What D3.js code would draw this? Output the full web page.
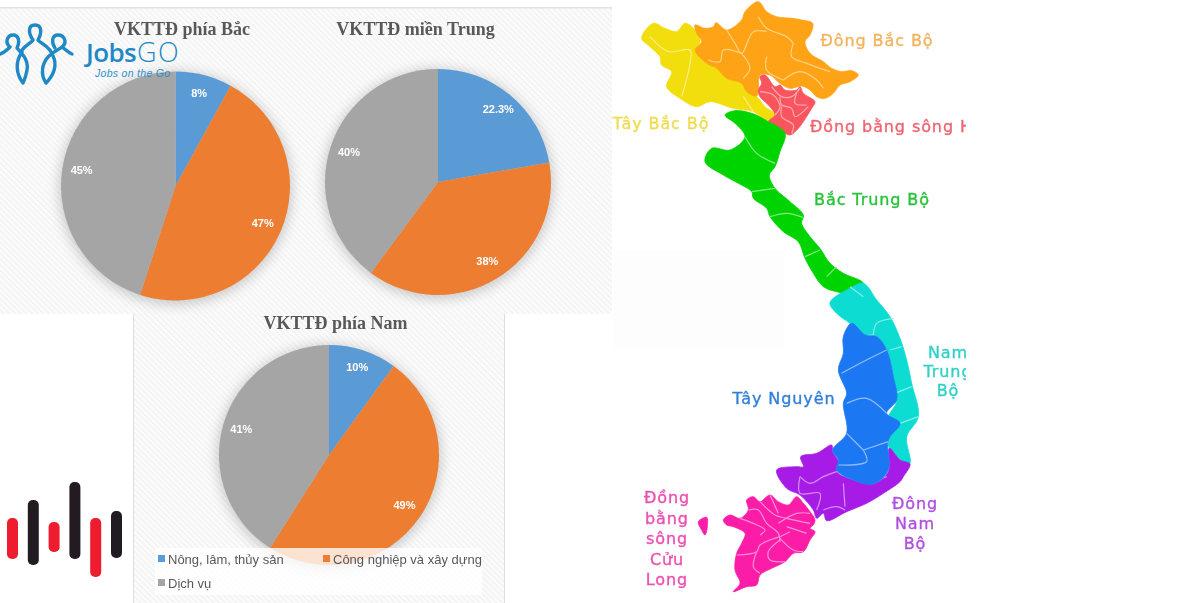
<!DOCTYPE html>
<html><head><meta charset="utf-8">
<script src="https://cdn.jsdelivr.net/npm/d3@7"></script>
<style>html,body{margin:0;padding:0;background:#fff;overflow:hidden}svg{display:block}</style>
</head><body><svg id="c" width="1200" height="603"></svg>
<script>
// ---------- data ----------
const categories = ["Nông, lâm, thủy sản", "Công nghiệp và xây dựng", "Dịch vụ"];
const pieTitles = ["VKTTĐ phía Bắc", "VKTTĐ miền Trung", "VKTTĐ phía Nam"];
const valuesBac = [8, 47, 45];
const valuesTrung = [22.3, 38, 40];
const valuesNam = [10, 49, 41];
const pieColors = ["#5b9bd5", "#ed7d31", "#a5a5a5"];
const logoBarTops = [518, 500, 522, 482, 518, 511];
const logoBarBottoms = [559, 565, 552, 559, 577, 558];
const logoBarColors = ["#ed1c2e", "#231f20", "#ed1c2e", "#231f20", "#ed1c2e", "#231f20"];
// Region outlines, in map units (two map sheets: 0 north, 1 south)
const dongBac = [[255,75],[285,85],[310,80],[318,68],[350,90],[395,60],[405,35],[445,5],[470,35],[500,50],[545,55],[575,60],[608,70],[600,105],[585,125],[600,160],[640,185],[665,205],[695,215],[725,212],[745,225],[720,245],[690,255],[670,280],[645,295],[620,290],[600,270],[575,258],[540,265],[510,250],[480,225],[450,225],[445,265],[440,288],[410,275],[395,250],[350,235],[320,205],[290,190],[255,150],[275,125],[260,100]];
const tayBac = [[95,115],[130,70],[165,85],[200,95],[225,70],[255,90],[270,125],[255,150],[290,190],[320,205],[350,235],[395,250],[410,275],[440,290],[465,320],[498,345],[470,360],[430,335],[370,325],[300,305],[260,320],[210,295],[170,260],[185,215],[155,195],[150,170],[120,140]];
const dbsh = [[450,230],[465,225],[495,260],[510,255],[525,270],[560,270],[570,260],[580,280],[615,305],[605,325],[580,365],[565,385],[540,405],[510,390],[475,365],[495,345],[475,315],[450,290],[445,270],[455,250]];
const bacTrung = [[345,345],[375,332],[425,340],[470,362],[525,400],[510,455],[495,500],[478,525],[495,565],[540,605],[580,645],[575,670],[600,710],[630,745],[660,790],[700,820],[760,850],[720,880],[680,875],[640,860],[610,820],[585,775],[565,725],[520,695],[480,650],[470,625],[430,595],[425,575],[385,550],[340,525],[285,485],[305,445],[360,450],[405,410],[375,370]];
const namTrung = [[660,68],[720,25],[760,10],[800,60],[840,110],[870,175],[890,240],[905,310],[925,410],[890,470],[900,550],[870,540],[838,505],[835,470],[835,410],[860,365],[850,290],[830,210],[790,165],[765,165],[720,130],[680,100]];
const tayNguyen = [[725,130],[765,165],[800,170],[830,210],[850,290],[860,360],[830,400],[870,430],[835,480],[835,570],[790,612],[730,600],[680,570],[685,540],[668,510],[710,460],[700,370],[710,340],[685,270],[700,220],[700,170]];
const dongNam = [[572,530],[620,520],[665,495],[668,515],[685,545],[680,575],[730,600],[790,612],[835,575],[838,505],[870,540],[900,552],[880,590],[870,605],[820,640],[770,670],[710,695],[650,722],[640,700],[620,715],[610,690],[570,645],[530,625],[500,570],[560,560],[580,560]];
const cuuLong = [[340,720],[360,705],[390,715],[415,690],[410,660],[430,650],[450,665],[480,645],[505,665],[535,675],[560,650],[580,670],[600,695],[615,720],[610,735],[600,745],[615,755],[600,780],[580,815],[550,820],[525,845],[485,865],[450,885],[440,915],[410,920],[370,935],[390,910],[375,870],[380,820],[395,790],[405,760],[370,740],[350,735]];
const phuQuoc = [[265,725],[290,712],[292,740],[285,765],[275,750]];
// Province boundaries, in map units
const linesDongBac = [[[350,90],[375,130],[395,160],[430,95],[470,95]],[[395,160],[340,150],[330,185],[295,180]],[[445,50],[470,85],[530,110],[550,130]],[[470,170],[470,210],[520,240]],[[395,160],[420,205],[400,235]],[[550,130],[545,170],[590,190],[660,215]],[[520,240],[570,215],[620,240],[640,265]]];
const linesTayBac = [[[120,110],[175,155],[240,150],[240,190],[215,290]],[[400,290],[430,335]]];
const linesDbsh = [[[485,260],[515,290],[545,290],[570,265]],[[450,275],[490,285],[510,320],[495,345]],[[510,290],[515,315],[545,325],[555,350],[595,320]],[[515,320],[515,350],[550,375],[545,400]],[[560,280],[555,310],[590,315]]];
const linesBacTrung = [[[405,410],[440,460],[495,490]],[[425,575],[495,565]],[[480,650],[530,640],[578,652]],[[585,770],[630,750]],[[650,830],[680,800]]];
const linesNamTrung = [[[720,20],[760,50]],[[790,165],[800,130],[850,115]],[[840,210],[875,200]],[[855,340],[905,320]],[[870,430],[925,410]]];
const linesTayNguyen = [[[695,280],[750,250],[830,210]],[[710,370],[770,355],[830,400]],[[710,460],[760,510]],[[760,510],[835,485]],[[685,555],[770,545],[760,510]]];
const linesDongNam = [[[570,590],[600,610],[640,590],[680,575]],[[570,590],[570,640],[630,640],[620,690]],[[700,610],[705,680]],[[640,690],[680,680],[705,690]],[[800,600],[830,590]]];
const linesCuuLong = [[[415,690],[445,690],[470,730],[505,760],[510,785]],[[450,665],[495,705],[530,715],[600,730]],[[480,645],[505,700]],[[390,715],[430,730],[465,750],[450,765]],[[505,730],[560,700],[600,700]],[[530,740],[590,760]],[[510,770],[450,795],[440,815],[380,825]],[[440,815],[430,860],[450,880]],[[510,780],[475,815],[480,840],[525,845]],[[510,775],[550,810],[580,815]],[[540,755],[510,770]]];
const regionNames = ["Đông Bắc Bộ","Tây Bắc Bộ","Đồng bằng sông Hồng","Bắc Trung Bộ","Nam Trung Bộ","Tây Nguyên","Đông Nam Bộ","Đồng bằng sông Cửu Long"];
const regionColors = ["#ffa313","#f2dd0c","#f9555f","#04d404","#0cdcd2","#1f78f2","#a61fe6","#fb1ea8"];
const labelColors = ["#f2b45e","#efdc4f","#ef6470","#27c23a","#2fd0c8","#2f7fd8","#b04fdc","#ec4fb0"];

// ---------- layout ----------
const svg = d3.select("#c");
const defs = svg.append("defs");
const pat = defs.append("pattern").attr("id","hatch").attr("width",4).attr("height",4)
  .attr("patternUnits","userSpaceOnUse").attr("patternTransform","rotate(-45)");
pat.append("rect").attr("width",4).attr("height",4).attr("fill","#fcfcfc");
pat.append("rect").attr("width",2).attr("height",4).attr("fill","#f4f4f4");
const soft = defs.append("filter").attr("id","soft"); soft.append("feGaussianBlur").attr("stdDeviation",0.55);
const softer = defs.append("filter").attr("id","softer"); softer.append("feGaussianBlur").attr("stdDeviation",0.4);
const shadow = defs.append("filter").attr("id","shadow").attr("x","-20%").attr("y","-20%").attr("width","140%").attr("height","140%");
shadow.append("feGaussianBlur").attr("stdDeviation",7);
defs.append("clipPath").attr("id","mapClip").append("rect").attr("x",600).attr("y",0).attr("width",366).attr("height",603);

// panels
svg.append("rect").attr("x",0).attr("y",8).attr("width",612).attr("height",306).attr("fill","url(#hatch)");
svg.append("rect").attr("x",0).attr("y",7).attr("width",612).attr("height",1.5).attr("fill","#e2e2e2");
svg.append("rect").attr("x",133).attr("y",314).attr("width",371).attr("height",289).attr("fill","url(#hatch)");
svg.append("rect").attr("x",133).attr("y",314).attr("width",1).attr("height",289).attr("fill","#dedede");
svg.append("rect").attr("x",504).attr("y",314).attr("width",1).attr("height",289).attr("fill","#dedede");
svg.append("rect").attr("x",613).attr("y",250).attr("width",172).attr("height",98).attr("fill","#fdfdfd");

const pies = [
 {values:valuesBac,title:pieTitles[0],cx:175.5,cy:186,r:114.5,tx:182,ty:35},
 {values:valuesTrung,title:pieTitles[1],cx:438,cy:182,r:113,tx:415.5,ty:35},
 {values:valuesNam,title:pieTitles[2],cx:329,cy:455,r:110,tx:335.5,ty:329}
];
const pieGen = d3.pie().sort(null).value(d=>d);
pies.forEach(p=>{
  const g = svg.append("g").attr("transform",`translate(${p.cx},${p.cy})`);
  g.append("circle").attr("r",p.r+1).attr("cy",2).attr("fill","#000").attr("opacity",0.22).attr("filter","url(#shadow)");
  const arc = d3.arc().innerRadius(0).outerRadius(p.r);
  const labelArc = d3.arc().innerRadius(p.r*0.83).outerRadius(p.r*0.83);
  const slices = pieGen(p.values);
  g.selectAll("path").data(slices).join("path").attr("d",arc).attr("fill",(d,i)=>pieColors[i]);
  g.selectAll("text").data(slices).join("text")
    .attr("x",d=>labelArc.centroid(d)[0]).attr("y",d=>labelArc.centroid(d)[1]+3)
    .attr("text-anchor","middle").attr("fill","#fff").attr("filter","url(#softer)")
    .style("font","bold 11px 'Liberation Sans',sans-serif")
    .text(d=>d.value+"%");
  svg.append("text").attr("x",p.tx).attr("y",p.ty).attr("text-anchor","middle").attr("fill","#595959")
    .attr("filter","url(#softer)")
    .style("font","bold 18px 'Liberation Serif',serif").text(p.title);
});

// legend
svg.append("rect").attr("x",155).attr("y",548).attr("width",327).attr("height",47).attr("fill","#fff").attr("opacity",0.78);
const legendPos = [[158,559],[323,559],[158,583]];
const lg = svg.append("g").attr("filter","url(#softer)");
categories.forEach((c,i)=>{
  lg.append("rect").attr("x",legendPos[i][0]).attr("y",legendPos[i][1]-4).attr("width",7).attr("height",7).attr("fill",pieColors[i]);
  lg.append("text").attr("x",legendPos[i][0]+10).attr("y",legendPos[i][1]+5).attr("fill","#595959")
    .style("font","13px 'Liberation Sans',sans-serif").text(c);
});

// map
const mapX = d3.scaleLinear().domain([0,1080]).range([610,970]);
const yNorth = d3.scaleLinear().domain([0,900]).range([0,300]);
const ySouth = d3.scaleLinear().domain([0,969]).range([280,603]);
const regions = [
 {pts:[tayBac],lines:linesTayBac,c:1,sheet:0},{pts:[dongBac],lines:linesDongBac,c:0,sheet:0},
 {pts:[dbsh],lines:linesDbsh,c:2,sheet:0},{pts:[bacTrung],lines:linesBacTrung,c:3,sheet:0},
 {pts:[namTrung],lines:linesNamTrung,c:4,sheet:1},{pts:[dongNam],lines:linesDongNam,c:6,sheet:1},
 {pts:[tayNguyen],lines:linesTayNguyen,c:5,sheet:1},{pts:[cuuLong,phuQuoc],lines:linesCuuLong,c:7,sheet:1}
];
const mapG = svg.append("g").attr("clip-path","url(#mapClip)");
const shapes = mapG.append("g").attr("filter","url(#soft)");
regions.forEach(r=>{
  const y = r.sheet?ySouth:yNorth;
  const closed = d3.line().x(d=>mapX(d[0])).y(d=>y(d[1])).curve(d3.curveCatmullRomClosed.alpha(0.5));
  const open = d3.line().x(d=>mapX(d[0])).y(d=>y(d[1])).curve(d3.curveCatmullRom.alpha(0.5));
  const col = regionColors[r.c];
  const light = d3.interpolateRgb(col,"#fff")(0.5);
  r.pts.forEach(p=>shapes.append("path").attr("d",closed(p)).attr("fill",col).attr("stroke",col).attr("stroke-width",0.8));
  r.lines.forEach(l=>shapes.append("path").attr("d",open(l)).attr("fill","none").attr("stroke",light).attr("stroke-width",1.2));
});
// map labels
const mapLabels = [
 {c:0,lines:["Đông Bắc Bộ"],x:877,y:46},
 {c:1,lines:["Tây Bắc Bộ"],x:661,y:129},
 {c:2,lines:[regionNames[2]],x:810,y:132,a:"start"},
 {c:3,lines:["Bắc Trung Bộ"],x:872,y:205},
 {c:4,lines:["Nam","Trung","Bộ"],x:948,y:358,lh:19},
 {c:5,lines:["Tây Nguyên"],x:784,y:404},
 {c:6,lines:["Đông","Nam","Bộ"],x:915,y:509,lh:20},
 {c:7,lines:["Đồng","bằng","sông","Cửu","Long"],x:667,y:503,lh:20.5}
];
const labG = mapG.append("g").attr("filter","url(#softer)");
mapLabels.forEach(l=>{
  l.lines.forEach((t,i)=>labG.append("text").attr("x",l.x).attr("y",l.y+i*(l.lh||0))
    .attr("text-anchor",l.a||"middle").attr("fill",labelColors[l.c])
    .attr("stroke",labelColors[l.c]).attr("stroke-width",0.35)
    .style("font","16px 'DejaVu Sans',sans-serif").style("letter-spacing","0.9px").text(t));
});

// JobsGO logo
const logo = svg.append("g").attr("fill","none").attr("stroke","#1f88c6").attr("stroke-width",3.4).attr("stroke-linecap","round").attr("stroke-linejoin","round");
const logoPaths = [
 "M22,50 C26,45 31,43 33,40 C28,33 28,25 35,25 C42,25 42,33 38,40 C41,44 50,46 53,56 C57,64 55,74 46,83 C40,74 42,63 49,56 C53,52 58,50 62,47 C66,50 69,53 72,54",
 "M62,47 C68,42 64,35 58,35 C52,35 51,42 55,48",
 "M0,54 C4,53 7,50 10,47 C4,42 8,35 13,35 C19,35 20,42 17,48 C22,54 29,60 27,70 C26,75 25,79 23,83 C16,74 15,62 22,52"
];
logo.selectAll("path").data(logoPaths).join("path").attr("d",d=>d);
svg.append("text").attr("x",86).attr("y",62).attr("fill","#1f88c6").style("font","600 26px 'Open Sans',sans-serif").style("letter-spacing","-0.6px").text("Jobs");
svg.append("text").attr("x",137).attr("y",62).attr("fill","#1f88c6").style("font","300 27px 'Open Sans',sans-serif").style("letter-spacing","1.5px").text("GO");
svg.append("text").attr("x",95).attr("y",77).attr("fill","#2f8fcb").style("font","italic 10.5px 'Liberation Sans',sans-serif").style("letter-spacing","0.3px").text("Jobs on the Go");

// waveform logo
const barX = d3.scalePoint().domain(d3.range(logoBarTops.length)).range([7,111]);
const barY = d3.scaleLinear().domain([0,603]).range([0,603]);
svg.append("g").attr("filter","url(#softer)").selectAll("rect").data(logoBarTops).join("rect")
  .attr("x",(d,i)=>barX(i)).attr("width",11)
  .attr("y",d=>barY(d)).attr("height",(d,i)=>barY(logoBarBottoms[i])-barY(d))
  .attr("rx",5).attr("fill",(d,i)=>logoBarColors[i]);
</script></body></html>
